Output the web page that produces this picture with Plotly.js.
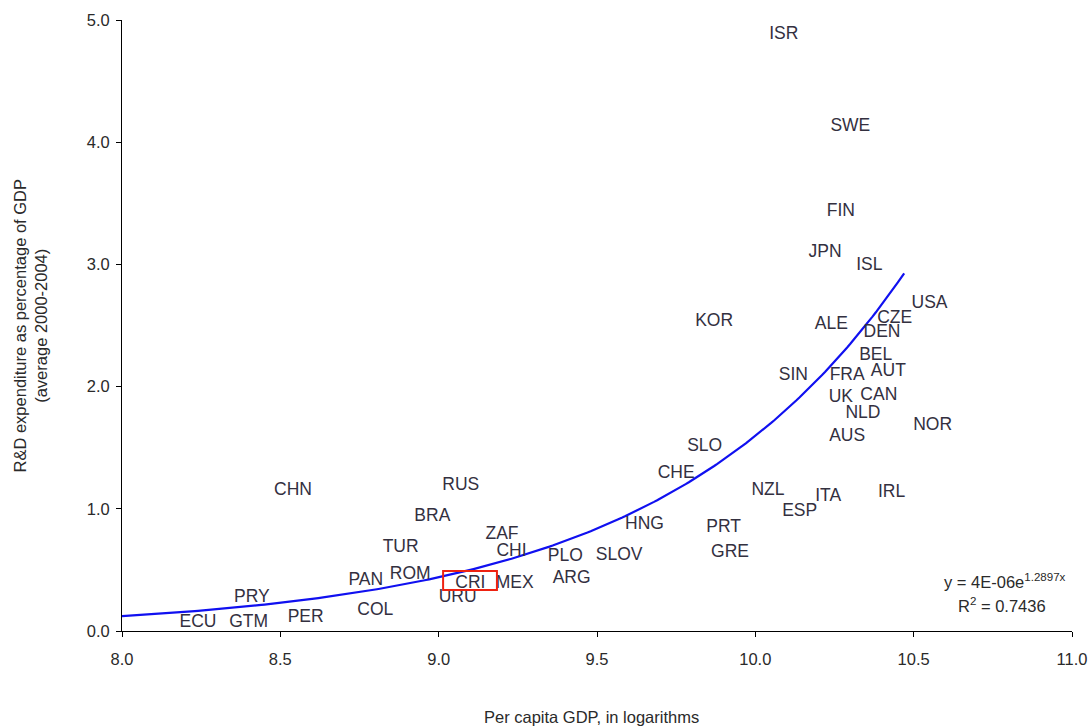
<!DOCTYPE html>
<html>
<head>
<meta charset="utf-8">
<script src="https://cdn.plot.ly/plotly-3.0.1.min.js"></script>
<style>
  html, body { margin: 0; padding: 0; background: #fff; }
  #chart { width: 1089px; height: 726px; }
</style>
</head>
<body>
<div id="chart"></div>
<script>
// Country codes (labels drawn at their data points)
const countries = ["ISR","SWE","FIN","JPN","ISL","USA","CZE","DEN","KOR","ALE",
  "BEL","AUT","SIN","FRA","UK","CAN","NLD","NOR","AUS","SLO",
  "CHE","CHN","RUS","NZL","ITA","IRL","ESP","BRA","ZAF","PRT",
  "HNG","TUR","CHI","GRE","PLO","SLOV","PAN","ROM","CRI","MEX",
  "ARG","URU","PRY","COL","PER","ECU","GTM"];
// Per capita GDP, in logarithms
const logGdp = [10.09,10.30,10.27,10.22,10.36,10.55,10.44,10.40,9.87,10.24,
  10.38,10.42,10.12,10.29,10.27,10.39,10.34,10.56,10.29,9.84,
  9.75,8.54,9.07,10.04,10.23,10.43,10.14,8.98,9.20,9.90,
  9.65,8.88,9.23,9.92,9.40,9.57,8.77,8.91,9.10,9.24,
  9.42,9.06,8.41,8.80,8.58,8.24,8.40];
// R&D expenditure as % of GDP (average 2000-2004)
const rdShare = [4.88,4.13,3.43,3.10,2.99,2.68,2.56,2.44,2.53,2.51,
  2.25,2.12,2.09,2.09,1.91,1.93,1.78,1.68,1.59,1.51,
  1.29,1.15,1.19,1.15,1.10,1.13,0.98,0.94,0.79,0.85,
  0.87,0.68,0.65,0.64,0.61,0.62,0.41,0.46,0.39,0.39,
  0.43,0.27,0.27,0.17,0.11,0.07,0.07];

// Trend line as displayed on the chart: y = 4E-06 e^(1.2897x)
const trendCoef = 4e-6;
const trendExp = 1.2897;
const trendXStart = 8.0;
const trendXEnd = 10.47;
const trendX = [];
const trendY = [];
for (let i = 0; i <= 247; i++) {
  const x = trendXStart + (trendXEnd - trendXStart) * i / 247;
  trendX.push(x);
  trendY.push(trendCoef * Math.exp(trendExp * x));
}

// Highlight box around CRI (data coordinates)
const highlightX = [9.014, 9.184];
const highlightY = [0.336, 0.491];

const xTicks = [8.0, 8.5, 9.0, 9.5, 10.0, 10.5, 11.0];
const yTicks = [0.0, 1.0, 2.0, 3.0, 4.0, 5.0];

const FONT = "Arial, 'Liberation Sans', sans-serif";
const TXT = "#2a2a2a";

const traces = [
  {
    x: trendX, y: trendY, type: "scatter", mode: "lines",
    line: { color: "#1010f0", width: 2.2 },
    hoverinfo: "skip", showlegend: false
  },
  {
    x: logGdp, y: rdShare, text: countries, type: "scatter", mode: "text",
    textposition: "middle center",
    textfont: { family: FONT, size: 17.5, color: "#33303f" },
    showlegend: false
  }
];

const layout = {
  width: 1089, height: 726,
  margin: { l: 122, r: 17, t: 20, b: 95 },
  paper_bgcolor: "#fff", plot_bgcolor: "#fff",
  font: { family: FONT, color: TXT },
  showlegend: false,
  xaxis: {
    range: [8, 11], tickvals: xTicks, tickformat: ".1f",
    showgrid: false, zeroline: false,
    showline: true, linecolor: "#000", linewidth: 1,
    ticks: "outside", ticklen: 5, tickcolor: "#000",
    ticklabelstandoff: 8,
    tickfont: { family: FONT, size: 16.5, color: TXT }
  },
  yaxis: {
    range: [0, 5], tickvals: yTicks, tickformat: ".1f",
    showgrid: false, zeroline: false,
    showline: true, linecolor: "#000", linewidth: 1,
    ticks: "outside", ticklen: 5, tickcolor: "#000",
    ticklabelstandoff: 3,
    tickfont: { family: FONT, size: 16.5, color: TXT }
  },
  shapes: [
    {
      type: "rect", xref: "x", yref: "y",
      x0: highlightX[0], x1: highlightX[1], y0: highlightY[0], y1: highlightY[1],
      line: { color: "#ee2211", width: 2 }, fillcolor: "rgba(0,0,0,0)"
    }
  ],
  annotations: [
    {
      text: "Per capita GDP, in logarithms",
      xref: "paper", yref: "paper", x: 0.5, y: 0,
      xanchor: "center", yanchor: "middle", yshift: -86, xshift: -6,
      showarrow: false, font: { family: FONT, size: 16.5, color: TXT }
    },
    {
      text: "R&D expenditure as percentage of GDP<br>(average 2000-2004)",
      xref: "paper", yref: "paper", x: 0, y: 0.5,
      xanchor: "center", yanchor: "middle", xshift: -92,
      textangle: -90, showarrow: false,
      font: { family: FONT, size: 16.5, color: TXT }
    },
    {
      text: "y = 4E-06e<sup>1.2897x</sup>",
      xref: "paper", yref: "paper", x: 0, y: 0,
      xanchor: "center", yanchor: "middle", xshift: 883, yshift: 50,
      showarrow: false, font: { family: FONT, size: 16.5, color: TXT }
    },
    {
      text: "R<sup>2</sup> = 0.7436",
      xref: "paper", yref: "paper", x: 0, y: 0,
      xanchor: "center", yanchor: "middle", xshift: 880, yshift: 26,
      showarrow: false, font: { family: FONT, size: 16.5, color: TXT }
    }
  ]
};

Plotly.newPlot("chart", traces, layout, { displayModeBar: false, staticPlot: true });
</script>
</body>
</html>
